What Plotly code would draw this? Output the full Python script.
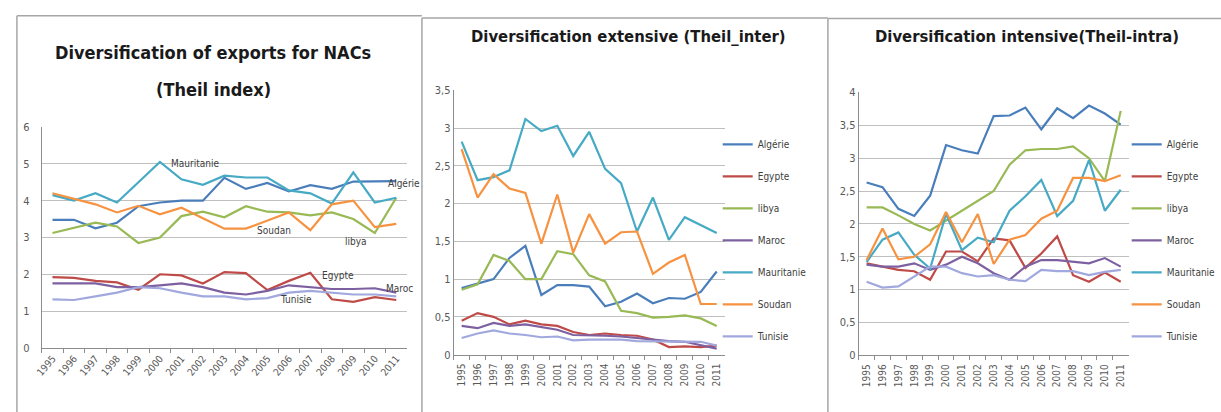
import plotly.graph_objects as go

W, H = 1221, 412

years = [str(y) for y in range(1995, 2012)]
countries = ["Algérie", "Egypte", "libya", "Maroc", "Mauritanie", "Soudan", "Tunisie"]
colors = {
    "Algérie": "#4A7EBB",
    "Egypte": "#BE4B48",
    "libya": "#98B954",
    "Maroc": "#7D60A0",
    "Mauritanie": "#46AAC5",
    "Soudan": "#F69240",
    "Tunisie": "#A0A8DE",
}

# Theil index (total)
theil_algerie = [3.48, 3.48, 3.25, 3.40, 3.85, 3.95, 4.00, 4.00, 4.62, 4.32, 4.48, 4.25, 4.42, 4.32, 4.52, 4.53, 4.53]
theil_egypte = [1.92, 1.90, 1.82, 1.78, 1.58, 2.00, 1.97, 1.75, 2.06, 2.03, 1.57, 1.82, 2.04, 1.32, 1.25, 1.38, 1.30]
theil_libya = [3.12, 3.25, 3.40, 3.30, 2.85, 3.00, 3.58, 3.70, 3.55, 3.85, 3.70, 3.68, 3.60, 3.68, 3.50, 3.12, 4.08]
theil_maroc = [1.75, 1.75, 1.75, 1.65, 1.65, 1.70, 1.75, 1.65, 1.50, 1.45, 1.55, 1.70, 1.65, 1.60, 1.60, 1.62, 1.50]
theil_mauritanie = [4.15, 4.00, 4.20, 3.95, 4.50, 5.05, 4.58, 4.43, 4.68, 4.63, 4.63, 4.28, 4.20, 3.92, 4.77, 3.95, 4.08]
theil_soudan = [4.20, 4.05, 3.90, 3.68, 3.86, 3.63, 3.81, 3.52, 3.24, 3.24, 3.45, 3.68, 3.20, 3.90, 4.00, 3.28, 3.37]
theil_tunisie = [1.32, 1.30, 1.40, 1.50, 1.65, 1.62, 1.50, 1.40, 1.40, 1.32, 1.35, 1.50, 1.55, 1.50, 1.45, 1.45, 1.40]

# Theil inter (extensive margin)
inter_algerie = [0.88, 0.94, 1.00, 1.28, 1.44, 0.79, 0.92, 0.92, 0.90, 0.64, 0.70, 0.81, 0.68, 0.75, 0.74, 0.83, 1.10]
inter_egypte = [0.45, 0.55, 0.50, 0.40, 0.45, 0.40, 0.38, 0.30, 0.26, 0.28, 0.26, 0.25, 0.20, 0.10, 0.11, 0.10, 0.12]
inter_libya = [0.86, 0.93, 1.32, 1.24, 1.00, 1.00, 1.37, 1.33, 1.05, 0.97, 0.58, 0.55, 0.49, 0.50, 0.52, 0.48, 0.38]
inter_maroc = [0.38, 0.35, 0.42, 0.38, 0.40, 0.36, 0.33, 0.26, 0.26, 0.25, 0.24, 0.22, 0.20, 0.18, 0.17, 0.12, 0.08]
inter_mauritanie = [2.82, 2.31, 2.35, 2.44, 3.12, 2.96, 3.03, 2.63, 2.95, 2.46, 2.27, 1.63, 2.08, 1.52, 1.82, 1.72, 1.61]
inter_soudan = [2.72, 2.08, 2.39, 2.20, 2.14, 1.47, 2.12, 1.35, 1.86, 1.47, 1.62, 1.63, 1.07, 1.22, 1.32, 0.67, 0.67]
inter_tunisie = [0.22, 0.28, 0.32, 0.28, 0.26, 0.23, 0.24, 0.19, 0.20, 0.20, 0.20, 0.18, 0.18, 0.18, 0.17, 0.17, 0.12]

# Theil intra (intensive margin)
intra_algerie = [2.63, 2.56, 2.23, 2.12, 2.43, 3.20, 3.12, 3.07, 3.64, 3.65, 3.77, 3.44, 3.76, 3.61, 3.80, 3.68, 3.51]
intra_egypte = [1.40, 1.35, 1.30, 1.28, 1.15, 1.58, 1.58, 1.43, 1.78, 1.75, 1.33, 1.55, 1.81, 1.22, 1.12, 1.26, 1.12]
intra_libya = [2.25, 2.25, 2.13, 2.00, 1.90, 2.05, 2.20, 2.35, 2.50, 2.90, 3.12, 3.14, 3.14, 3.18, 3.00, 2.65, 3.72]
intra_maroc = [1.38, 1.35, 1.35, 1.40, 1.30, 1.38, 1.50, 1.40, 1.25, 1.15, 1.35, 1.45, 1.45, 1.43, 1.40, 1.48, 1.35]
intra_mauritanie = [1.42, 1.76, 1.87, 1.53, 1.32, 2.15, 1.60, 1.79, 1.72, 2.20, 2.42, 2.67, 2.12, 2.35, 2.97, 2.20, 2.52]
intra_soudan = [1.45, 1.93, 1.46, 1.50, 1.69, 2.18, 1.72, 2.15, 1.39, 1.76, 1.83, 2.08, 2.20, 2.70, 2.70, 2.65, 2.74]
intra_tunisie = [1.12, 1.03, 1.05, 1.20, 1.35, 1.35, 1.25, 1.20, 1.22, 1.15, 1.13, 1.30, 1.28, 1.28, 1.22, 1.27, 1.30]

panel_total = [theil_algerie, theil_egypte, theil_libya, theil_maroc, theil_mauritanie, theil_soudan, theil_tunisie]
panel_inter = [inter_algerie, inter_egypte, inter_libya, inter_maroc, inter_mauritanie, inter_soudan, inter_tunisie]
panel_intra = [intra_algerie, intra_egypte, intra_libya, intra_maroc, intra_mauritanie, intra_soudan, intra_tunisie]

# Inline series labels of the first chart: (name, year index, value, x shift)
total_labels = [
    ("Mauritanie", 5, 5.02, 9),
    ("Algérie", 16, 4.47, -10),
    ("Soudan", 9, 3.19, 9),
    ("libya", 13, 2.90, 11),
    ("Egypte", 12, 1.97, 10),
    ("Maroc", 15, 1.61, 9),
    ("Tunisie", 10, 1.31, 11),
]

TITLE_FONT = "DejaVu Sans Condensed, Liberation Sans Narrow, Arial Narrow, sans-serif"
TEXT_FONT = "DejaVu Sans Condensed, Liberation Sans Narrow, Arial Narrow, sans-serif"
GRID = "#C0C0C0"
AXIS = "#8C8C8C"
TICK_COLOR = "#595959"


def px_x(p):
    return p / W


def px_y(p):
    return 1 - p / H


fig = go.Figure()

panels = [
    (panel_total, "x", "y", None),
    (panel_inter, "x2", "y2", "legend2"),
    (panel_intra, "x3", "y3", "legend3"),
]
for series, xa, ya, leg in panels:
    for name, vals in zip(countries, series):
        fig.add_trace(go.Scatter(
            x=years, y=vals, name=name, mode="lines",
            line=dict(color=colors[name], width=2.2),
            xaxis=xa, yaxis=ya,
            showlegend=leg is not None,
            legend=leg if leg else "legend",
            legendgroup=f"{xa}-{name}",
        ))

xcommon = dict(
    type="category", range=[-0.5, 16.5], showgrid=False, showline=True,
    linecolor=AXIS, linewidth=1, ticks="outside", ticklen=4, tickcolor=AXIS,
    tickson="boundaries", tickfont=dict(family=TEXT_FONT, size=10, color=TICK_COLOR),
    fixedrange=True,
)
ycommon = dict(
    showgrid=True, gridcolor=GRID, gridwidth=1, showline=True, linecolor=AXIS,
    linewidth=1, zeroline=False, ticks="", tickfont=dict(family=TEXT_FONT, size=11, color=TICK_COLOR),
    fixedrange=True,
)

fig.update_layout(
    width=W, height=H,
    margin=dict(l=0, r=0, t=0, b=0),
    paper_bgcolor="white", plot_bgcolor="white",
    separators=", ",
    showlegend=True,
    xaxis=dict(xcommon, domain=[px_x(35), px_x(403)], anchor="y", tickangle=-50,
               tickfont=dict(family=TEXT_FONT, size=10, color=TICK_COLOR)),
    yaxis=dict(ycommon, domain=[px_y(353), px_y(125)], anchor="x", range=[0, 6], dtick=1,
               ticklabelstandoff=9),
    xaxis2=dict(xcommon, domain=[px_x(450), px_x(723)], anchor="y2", tickangle=-90,
                ticklabelstandoff=4),
    yaxis2=dict(ycommon, domain=[px_y(360), px_y(87)], anchor="x2", range=[0, 3.5], dtick=0.5),
    xaxis3=dict(xcommon, domain=[px_x(858), px_x(1130)], anchor="y3", tickangle=-90,
                ticklabelstandoff=4),
    yaxis3=dict(ycommon, domain=[px_y(360.7), px_y(89.3)], anchor="x3", range=[0, 4], dtick=0.5),
    legend=dict(visible=False),
    legend2=dict(
        x=px_x(716), y=px_y(128), xanchor="left", yanchor="top",
        font=dict(family=TEXT_FONT, size=10, color="#404040"),
        tracegroupgap=13, bgcolor="rgba(0,0,0,0)",
    ),
    legend3=dict(
        x=px_x(1128), y=px_y(128), xanchor="left", yanchor="top",
        font=dict(family=TEXT_FONT, size=10, color="#404040"),
        tracegroupgap=13, bgcolor="rgba(0,0,0,0)",
    ),
)

# Chart frames
frame = dict(color="#A6A6A6", width=1.5)
shapes = [
    dict(type="line", xref="paper", yref="paper", x0=px_x(10), x1=px_x(418), y0=px_y(10), y1=px_y(10), line=frame),
    dict(type="line", xref="paper", yref="paper", x0=px_x(10), x1=px_x(10), y0=px_y(10), y1=px_y(420), line=frame),
    dict(type="line", xref="paper", yref="paper", x0=px_x(418), x1=px_x(827), y0=px_y(12.5), y1=px_y(12.5), line=frame),
    dict(type="line", xref="paper", yref="paper", x0=px_x(418), x1=px_x(418), y0=px_y(12.5), y1=px_y(420), line=frame),
    dict(type="line", xref="paper", yref="paper", x0=px_x(827), x1=px_x(1230), y0=px_y(13), y1=px_y(13), line=frame),
    dict(type="line", xref="paper", yref="paper", x0=px_x(827), x1=px_x(827), y0=px_y(13), y1=px_y(420), line=frame),
]
fig.update_layout(shapes=shapes)

annotations = [
    dict(text="<b>Diversification of exports for NACs</b>", x=px_x(208), y=px_y(48),
         font=dict(family=TITLE_FONT, size=18, color="#1A1A1A")),
    dict(text="<b>(Theil index)</b>", x=px_x(208), y=px_y(86),
         font=dict(family=TITLE_FONT, size=18, color="#1A1A1A")),
    dict(text="<b>Diversification extensive (Theil_inter)</b>", x=px_x(626), y=px_y(31),
         font=dict(family=TITLE_FONT, size=16.5, color="#1A1A1A")),
    dict(text="<b>Diversification intensive(Theil-intra)</b>", x=px_x(1028), y=px_y(31),
         font=dict(family=TITLE_FONT, size=16.5, color="#1A1A1A")),
]
for a in annotations:
    a.update(xref="paper", yref="paper", showarrow=False, xanchor="center", yanchor="middle")

for name, idx, val, shift in total_labels:
    annotations.append(dict(
        text=name, x=idx, y=val, xref="x", yref="y", xanchor="left", yanchor="middle",
        xshift=shift, showarrow=False,
        font=dict(family=TEXT_FONT, size=10, color="#404040"),
    ))
fig.update_layout(annotations=annotations)

fig.write_html("out.html")
